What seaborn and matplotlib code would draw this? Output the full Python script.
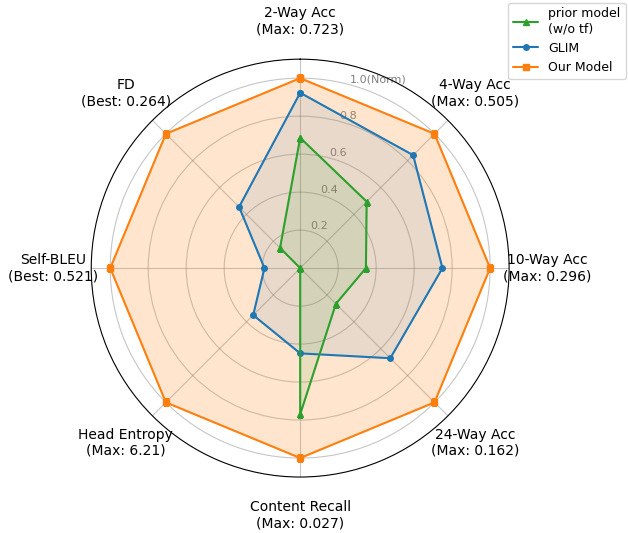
import matplotlib
matplotlib.use("Agg")
import matplotlib.pyplot as plt
import seaborn as sns
import numpy as np

# axis labels, clockwise from the top
categories = ['2-Way Acc\n(Max: 0.723)', '4-Way Acc\n(Max: 0.505)', '10-Way Acc\n(Max: 0.296)',
              '24-Way Acc\n(Max: 0.162)', 'Content Recall\n(Max: 0.027)', 'Head Entropy\n(Max: 6.21)',
              'Self-BLEU\n(Best: 0.521)', 'FD\n(Best: 0.264)']

# normalised scores
prior_vals = [0.686, 0.495, 0.346, 0.266, 0.770, 0.0, 0.0, 0.150]
glim_vals = [0.923, 0.841, 0.749, 0.671, 0.449, 0.350, 0.188, 0.455]
ours_vals = [1.0, 1.0, 1.0, 1.0, 1.0, 1.0, 1.0, 1.0]

series_names = ['prior model\n(w/o tf)', 'GLIM', 'Our Model']
r_ticks = [0.2, 0.4, 0.6, 0.8, 1.0]
r_tick_labels = ['0.2', '0.4', '0.6', '0.8', '1.0(Norm)']

sns.set_style("white")
plt.rcParams['font.family'] = ['DejaVu Sans']
plt.rcParams['text.color'] = 'black'
colors = sns.color_palette("tab10")
green, blue, orange = colors[2], colors[0], colors[1]

fig = plt.figure(figsize=(6.28, 5.33), dpi=100)
ax = fig.add_axes([0.145, 0.105, 0.666, 0.784], polar=True)
ax.set_theta_offset(np.pi / 2)
ax.set_theta_direction(-1)

n = len(categories)
angles = np.linspace(0, 2 * np.pi, n, endpoint=False)
angles_closed = np.concatenate([angles, angles[:1]])


def close(v):
    return list(v) + [v[0]]


# draw order: orange fill at the back
ax.plot(angles_closed, close(ours_vals), color=orange, linewidth=1.5, marker='s', markersize=4,
        label=series_names[2], zorder=3)
ax.fill(angles_closed, close(ours_vals), color=orange, alpha=0.2)
ax.plot(angles_closed, close(glim_vals), color=blue, linewidth=1.5, marker='o', markersize=4,
        label=series_names[1], zorder=4)
ax.fill(angles_closed, close(glim_vals), color=blue, alpha=0.1)
ax.plot(angles_closed, close(prior_vals), color=green, linewidth=1.5, marker='^', markersize=4,
        label=series_names[0], zorder=5)
ax.fill(angles_closed, close(prior_vals), color=green, alpha=0.1)

ax.set_ylim(0, 1.1)
ax.set_xticks(angles)
ax.set_xticklabels([])
ax.set_yticks(r_ticks)
ax.set_yticklabels(r_tick_labels, color='gray', fontsize=8)
ax.set_rlabel_position(15)
ax.grid(True, color='gray', alpha=0.45, linewidth=0.8)
ax.spines['polar'].set_color('black')
ax.spines['polar'].set_linewidth(0.8)

for ang, lab in zip(angles, categories):
    ax.text(ang, 1.3, lab, ha='center', va='center', fontsize=10, color='black')

handles, labels = ax.get_legend_handles_labels()
order = [2, 1, 0]
fig.legend([handles[i] for i in order], [labels[i] for i in order], loc='upper right',
           bbox_to_anchor=(1.0, 1.0), borderaxespad=0.2, fontsize=9, frameon=True,
           labelcolor='black')

fig.savefig('out.png', dpi=100)
